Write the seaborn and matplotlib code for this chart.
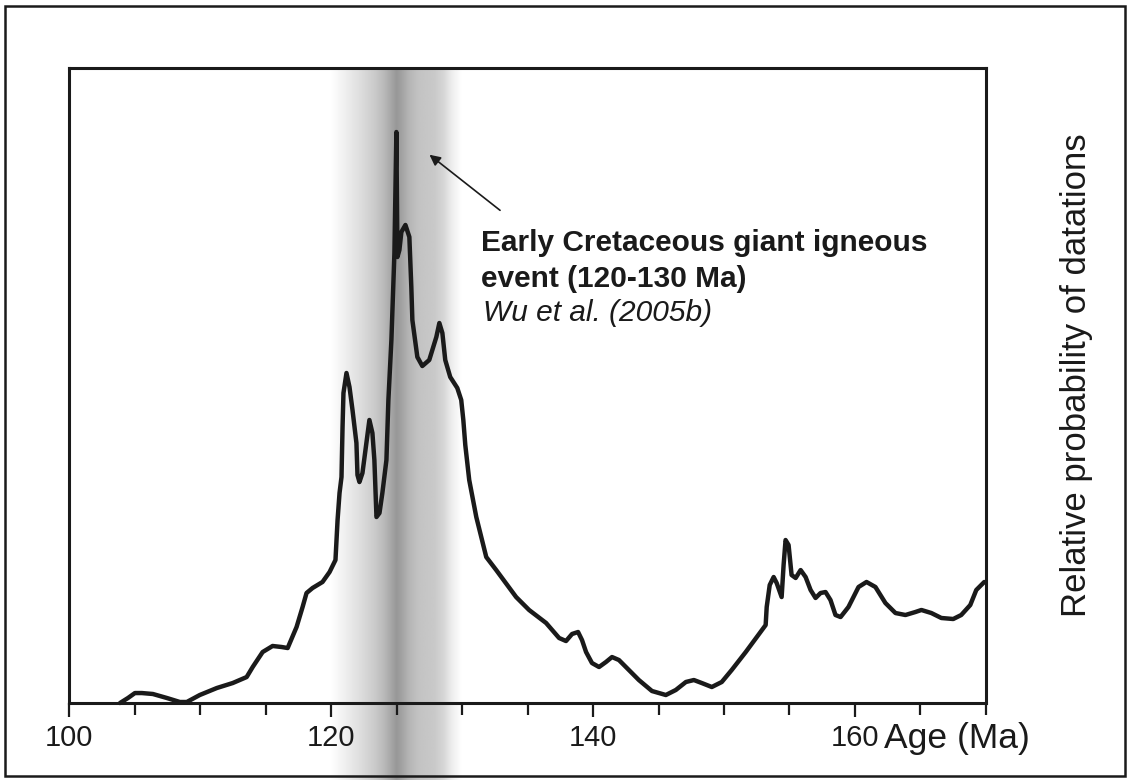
import numpy as np
import pandas as pd
import matplotlib
matplotlib.use("Agg")
import matplotlib.pyplot as plt
import seaborn as sns
from matplotlib.patches import Rectangle

# Age (Ma) and relative probability
age = [103.89, 104.50, 105.03, 105.56, 106.40, 107.47, 108.46, 108.99, 109.98, 111.28,
       112.50, 113.56, 114.02, 114.78, 115.54, 116.23, 116.69, 117.37, 117.83, 118.13,
       118.59, 119.35, 119.89, 120.34, 120.50, 120.65, 120.80, 120.88, 120.95, 121.18,
       121.41, 121.64, 121.94, 122.02, 122.17, 122.40, 122.70, 122.93, 123.16, 123.31,
       123.47, 123.70, 123.92, 124.23, 124.38, 124.61, 124.84, 124.99, 125.07, 125.22,
       125.37, 125.68, 125.98, 126.13, 126.21, 126.59, 126.97, 127.50, 128.04, 128.27,
       128.50, 128.72, 129.10, 129.64, 129.94, 130.10, 130.25, 130.55, 131.09, 131.85,
       132.61, 134.13, 135.12, 136.42, 137.41, 137.94, 138.40, 138.86, 139.16, 139.47,
       139.92, 140.46, 140.99, 141.45, 141.98, 142.74, 143.50, 144.50, 145.56, 146.32,
       147.09, 147.70, 148.30, 149.07, 149.83, 150.59, 151.66, 153.18, 153.26, 153.49,
       153.79, 154.02, 154.40, 154.55, 154.70, 154.93, 155.16, 155.47, 155.85, 156.23,
       156.61, 156.99, 157.37, 157.75, 158.13, 158.51, 158.90, 159.50, 160.27, 160.88,
       161.56, 162.32, 163.09, 163.85, 164.61, 165.07, 165.83, 166.59, 167.50, 168.11,
       168.80, 169.26, 169.87]
prob = [0.00, 0.79, 1.57, 1.57, 1.42, 0.79, 0.16, 0.16, 1.26, 2.36,
        3.15, 4.09, 5.67, 8.03, 8.98, 8.82, 8.66, 11.97, 15.12, 17.32,
        18.11, 19.06, 20.63, 22.52, 28.82, 33.07, 35.59, 43.46, 48.82, 51.97,
        49.76, 46.14, 40.94, 35.91, 34.80, 36.22, 40.94, 44.57, 42.52, 38.27,
        29.29, 29.92, 33.07, 38.27, 47.72, 57.17, 70.87, 89.92, 70.24, 71.34,
        74.17, 75.28, 73.39, 65.51, 60.31, 54.49, 53.07, 54.02, 57.64, 59.84,
        58.27, 54.02, 51.34, 49.61, 47.72, 44.57, 40.63, 35.12, 29.29, 22.99,
        20.94, 16.69, 14.65, 12.60, 10.24, 9.76, 10.87, 11.18, 9.92, 8.03,
        6.30, 5.67, 6.46, 7.24, 6.77, 5.20, 3.62, 1.89, 1.26, 2.05,
        3.31, 3.62, 3.15, 2.52, 3.31, 5.20, 8.03, 12.28, 15.12, 18.58,
        19.84, 18.90, 16.69, 21.73, 25.67, 24.88, 20.16, 19.69, 20.94, 19.84,
        17.80, 16.54, 17.32, 17.48, 16.22, 13.86, 13.54, 15.12, 18.27, 19.06,
        18.27, 15.75, 14.17, 13.86, 14.33, 14.65, 14.17, 13.39, 13.23, 13.86,
        15.43, 17.80, 19.06]

major_ticks = [100, 120, 140, 160]
tick_labels = ["100", "120", "140", "160"]
minor_ticks = [105, 110, 115, 125, 130, 135, 145, 150, 155, 165, 170]
event_start, event_end = 120, 130

df = pd.DataFrame({"age": age, "prob": prob})

sns.set_theme(style="white")
plt.rcParams['font.family'] = ['Liberation Sans', 'DejaVu Sans']

ink = '#1a1a1a'
fig = plt.figure(figsize=(11.28, 7.8), dpi=100)

# grey band behind the plot, running down to the bottom of the figure
bg = fig.add_axes([0.0612, 0.0, 0.8129, 0.9128], zorder=0)
band_pos = [120, 121.0, 122.2, 123.3, 124.1, 124.6, 125.0, 125.4, 126.0, 126.7, 127.9, 128.6, 129.2, 130]
band_gray = [255, 240, 222, 203, 184, 166, 152, 162, 182, 195, 201, 214, 236, 255]
xs = np.linspace(event_start, event_end, 500)
shade = np.tile(np.interp(xs, band_pos, band_gray) / 255.0, (2, 1))
bg.imshow(shade, cmap='gray', vmin=0, vmax=1, extent=(event_start, event_end, 0, 1),
          aspect='auto', interpolation='bilinear')
bg.set_xlim(100, 170)
bg.set_ylim(0, 1)
bg.axis('off')

ax = fig.add_axes([0.0612, 0.0987, 0.8129, 0.8141], zorder=1)
ax.set_facecolor('none')
sns.lineplot(data=df, x='age', y='prob', ax=ax, color=ink, lw=3.2,
             estimator=None, sort=False, clip_on=False)
ax.lines[0].set_solid_joinstyle('round')
ax.lines[0].set_solid_capstyle('round')
ax.set_xlim(100, 170)
ax.set_ylim(0, 100)

for s in ax.spines.values():
    s.set_visible(True)
    s.set_color(ink)
    s.set_linewidth(2.2)

ax.set_xticks(major_ticks)
ax.set_xticklabels(tick_labels)
ax.set_xticks(minor_ticks, minor=True)
ax.tick_params(axis='x', which='both', bottom=True, direction='out', color=ink, width=1.6)
ax.tick_params(axis='x', which='major', length=10, pad=5, labelsize=21, labelcolor=ink)
ax.tick_params(axis='x', which='minor', length=8.5)
ax.tick_params(axis='y', left=False, labelleft=False)
ax.set_xlabel('')

ax.text(162.2, -0.0709, 'Age (Ma)', transform=ax.get_xaxis_transform(),
        fontsize=25.5, color=ink, ha='left', va='baseline')

ax.set_ylabel('Relative probability of datations', fontsize=25, color=ink)
ax.yaxis.set_label_position('right')
ax.yaxis.set_label_coords(1.081, 0.517)

ax.annotate('', xy=(127.35, 86.61), xytext=(133.07, 77.32),
            arrowprops=dict(arrowstyle='-|>', color=ink, lw=1.2, mutation_scale=16))
ax.text(131.47, 72.44, 'Early Cretaceous giant igneous', fontsize=21.5, fontweight='bold',
        color=ink, va='center', ha='left')
ax.text(131.47, 66.77, 'event (120-130 Ma)', fontsize=21.5, fontweight='bold',
        color=ink, va='center', ha='left')
ax.text(131.6, 61.42, 'Wu et al. (2005b)', fontsize=21.5, fontstyle='italic',
        color=ink, va='center', ha='left')

fig.add_artist(Rectangle((0.0044, 0.0051), 0.9929, 0.987, transform=fig.transFigure,
                         fill=False, lw=1.8, ec=ink, zorder=5))

fig.savefig('out.png', dpi=100)
